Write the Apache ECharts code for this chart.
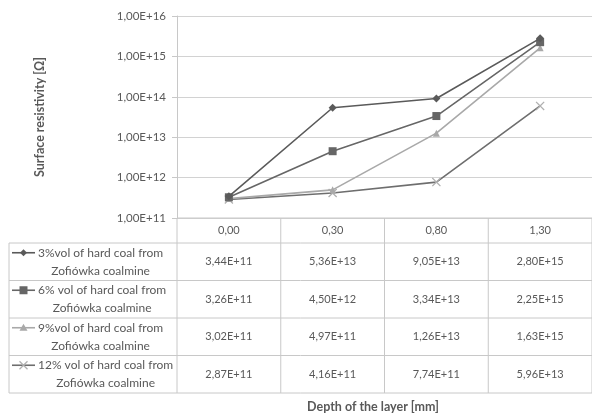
<!DOCTYPE html>
<html>
<head>
<meta charset="utf-8">
<script src="https://cdn.jsdelivr.net/npm/echarts@6/dist/echarts.min.js"></script>
<style>
html,body{margin:0;padding:0;background:#fff;}
#main{width:592px;height:420px;}
</style>
</head>
<body>
<div id="main"></div>
<script>
const categories = ['0,00', '0,30', '0,80', '1,30'];
const seriesNames = [
  ['3%vol of hard coal from', 'Zofiówka coalmine'],
  ['6% vol of hard coal from', 'Zofiówka coalmine'],
  ['9%vol of hard coal from', 'Zofiówka coalmine'],
  ['12% vol of hard coal from', 'Zofiówka coalmine']
];
const s3 = [3.44e11, 5.36e13, 9.05e13, 2.80e15];
const s6 = [3.26e11, 4.50e12, 3.34e13, 2.25e15];
const s9 = [3.02e11, 4.97e11, 1.26e13, 1.63e15];
const s12 = [2.87e11, 4.16e11, 7.74e11, 5.96e13];
const allSeries = [s3, s6, s9, s12];
const yTitle = 'Surface resistivity [Ω]';
const xTitle = 'Depth of the layer [mm]';

const lineColors = ['#5a5a5a', '#666666', '#a9a9a9', '#6e6e6e'];
const markerColors = ['#5a5a5a', '#666666', '#a9a9a9', '#b0b0b0'];
const xPath = 'path://M0,1L1,0L5,4L9,0L10,1L6,5L10,9L9,10L5,6L1,10L0,9L4,5Z';
const symbols = ['diamond', 'rect', 'triangle', xPath];
const symbolSizes = [8, 8, 7, 9];
const textColor = '#595959';
const borderColor = '#c8c8c8';
const FONT = 'Lato, "Open Sans", sans-serif';
const LEG_FONT = '12px ' + FONT;
const VAL_FONT = '11px ' + FONT;

function fmtVal(v) {
  return v.toExponential(2).replace('.', ',').replace('e+', 'E+').replace('e-', 'E-');
}

const chart = echarts.init(document.getElementById('main'), null, {renderer: 'canvas'});

const GRID = {left: 177, top: 16, width: 422, height: 202};

chart.setOption({
  animation: false,
  backgroundColor: '#ffffff',
  grid: GRID,
  xAxis: {
    type: 'category',
    data: categories,
    boundaryGap: true,
    axisLine: {show: false},
    axisTick: {show: false},
    axisLabel: {show: false},
    splitLine: {show: false}
  },
  yAxis: {
    type: 'log',
    logBase: 10,
    min: 1e11,
    max: 1e16,
    name: yTitle,
    nameLocation: 'middle',
    nameGap: 131,
    nameTextStyle: {color: textColor, fontSize: 12.5, fontWeight: 'bold', fontFamily: FONT},
    axisLine: {show: true, lineStyle: {color: borderColor, width: 1}},
    axisTick: {show: true, length: 5, lineStyle: {color: borderColor}},
    axisLabel: {
      color: textColor, fontSize: 11.5, fontFamily: FONT, margin: 11,
      formatter: v => '1,00E+' + Math.round(Math.log10(v))
    },
    splitLine: {show: true, lineStyle: {color: '#d2d2d2', width: 1.2}}
  },
  series: allSeries.map((d, i) => ({
    name: seriesNames[i].join(' '),
    type: 'line',
    data: d,
    symbol: symbols[i],
    symbolSize: symbolSizes[i],
    lineStyle: {color: lineColors[i], width: 1.6},
    itemStyle: {color: markerColors[i]},
    z: 10 - i
  }))
});

// Build data table below the plot using axis positions
const c0 = chart.convertToPixel({xAxisIndex: 0}, 0);
const c1 = chart.convertToPixel({xAxisIndex: 0}, 1);
const bw = c1 - c0;
const axisBottom = chart.convertToPixel({yAxisIndex: 0}, 1e11);
const plotLeft = c0 - bw / 2;
const plotRight = plotLeft + bw * categories.length;
const headerH = 25;
const rowH = 37.5;
const tableLeft = 9;
const legendMarkerX0 = 12, legendMarkerX1 = 35, legendTextX = 38;

const ctx = document.createElement('canvas').getContext('2d');
ctx.font = LEG_FONT;

const g = [];
function hline(x1, x2, y) {
  g.push({type: 'line', shape: {x1, y1: y, x2, y2: y}, style: {stroke: borderColor, lineWidth: 1}, silent: true});
}
function vline(x, y1, y2) {
  g.push({type: 'line', shape: {x1: x, y1, x2: x, y2}, style: {stroke: borderColor, lineWidth: 1}, silent: true});
}
const rowsTop = axisBottom + headerH;
const tableBottom = rowsTop + rowH * allSeries.length;
hline(plotLeft, plotRight, axisBottom);
for (let r = 0; r <= allSeries.length; r++) hline(tableLeft, plotRight, rowsTop + r * rowH);
vline(tableLeft, rowsTop, tableBottom);
vline(plotLeft, axisBottom, tableBottom);
for (let c = 1; c <= categories.length; c++) vline(plotLeft + c * bw, axisBottom, tableBottom);

categories.forEach((cat, i) => {
  g.push({type: 'text', x: c0 + i * bw, y: axisBottom + headerH / 2,
    style: {text: cat, fill: textColor, font: VAL_FONT, textAlign: 'center', textVerticalAlign: 'middle'}, silent: true});
});

allSeries.forEach((d, r) => {
  const yc = rowsTop + r * rowH + rowH / 2;
  const y1 = yc - 9;
  g.push({type: 'line', shape: {x1: legendMarkerX0, y1: y1, x2: legendMarkerX1, y2: y1},
    style: {stroke: lineColors[r], lineWidth: 1.6}, silent: true});
  const mx = (legendMarkerX0 + legendMarkerX1) / 2;
  if (r === 0) {
    g.push({type: 'polygon', shape: {points: [[mx, y1 - 3.5], [mx + 3.5, y1], [mx, y1 + 3.5], [mx - 3.5, y1]]}, style: {fill: markerColors[r]}, silent: true});
  } else if (r === 1) {
    g.push({type: 'rect', shape: {x: mx - 4, y: y1 - 4, width: 8, height: 8}, style: {fill: markerColors[r]}, silent: true});
  } else if (r === 2) {
    g.push({type: 'polygon', shape: {points: [[mx, y1 - 4], [mx + 4, y1 + 3], [mx - 4, y1 + 3]]}, style: {fill: markerColors[r]}, silent: true});
  } else {
    g.push({type: 'line', shape: {x1: mx - 4, y1: y1 - 4, x2: mx + 4, y2: y1 + 4}, style: {stroke: markerColors[r], lineWidth: 1.3}, silent: true});
    g.push({type: 'line', shape: {x1: mx - 4, y1: y1 + 4, x2: mx + 4, y2: y1 - 4}, style: {stroke: markerColors[r], lineWidth: 1.3}, silent: true});
  }
  const w1 = ctx.measureText(seriesNames[r][0]).width;
  g.push({type: 'text', x: legendTextX + w1 / 2, y: yc,
    style: {text: seriesNames[r][0] + '\n' + seriesNames[r][1], fill: textColor, font: LEG_FONT,
      textAlign: 'center', textVerticalAlign: 'middle', lineHeight: 18}, silent: true});
  d.forEach((v, i) => {
    g.push({type: 'text', x: c0 + i * bw, y: yc,
      style: {text: fmtVal(v), fill: textColor, font: VAL_FONT, textAlign: 'center', textVerticalAlign: 'middle'}, silent: true});
  });
});

g.push({type: 'text', x: 373, y: tableBottom + 14,
  style: {text: xTitle, fill: textColor, font: 'bold 12.5px ' + FONT, textAlign: 'center', textVerticalAlign: 'middle'}, silent: true});

chart.setOption({graphic: {elements: g}});
</script>
</body>
</html>
